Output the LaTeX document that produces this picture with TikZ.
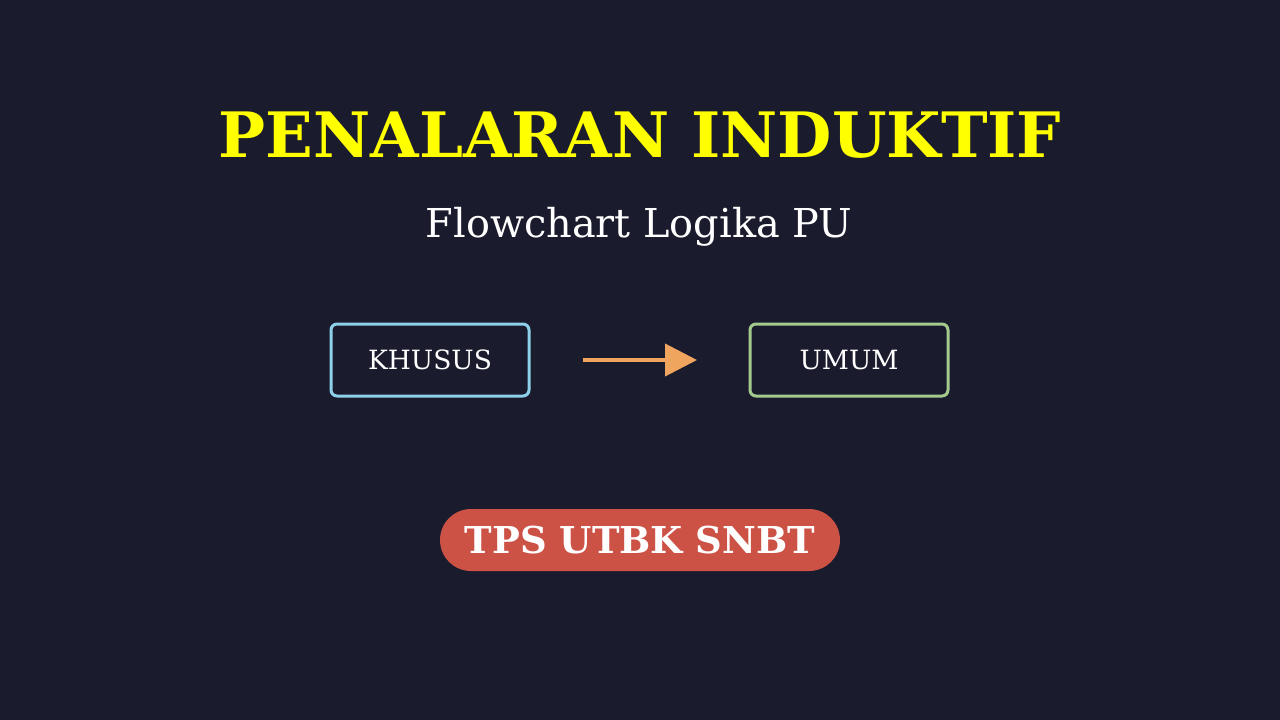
\documentclass[tikz,border=0pt]{standalone}
\usepackage{fontspec}
\setmainfont{DejaVu Serif}
\usetikzlibrary{arrows.meta}
\definecolor{bg}{HTML}{1B1B2E}
\definecolor{ttl}{HTML}{FFFF00}
\definecolor{bluebd}{HTML}{8ED1EA}
\definecolor{greenbd}{HTML}{A3CC8C}
\definecolor{arr}{HTML}{F0A55E}
\definecolor{badge}{HTML}{CD5246}
\tikzset{
  flowbox/.style={draw, line width=3pt, rounded corners=6pt, minimum width=198pt, minimum height=72pt, text=white, font=\fontsize{26.5}{26.5}\selectfont, inner sep=0pt},
  flowarrow/.style={draw=arr, line width=4pt, -{Triangle[length=32pt,width=32pt]}},
}
\begin{document}
\begin{tikzpicture}[x=1pt,y=-1pt]
\fill[bg] (0,0) rectangle (1280,720);
\useasboundingbox (0,0) rectangle (1280,720);
\node[anchor=base, text=ttl, font=\fontsize{62.6}{62.6}\selectfont\bfseries, inner sep=0pt] (title) at (640,157) {PENALARAN INDUKTIF};
\node[anchor=base, text=white, font=\fontsize{39.8}{39.8}\selectfont, inner sep=0pt] (sub) at (639,237) {Flowchart Logika PU};
\node[flowbox, draw=bluebd] (khusus) at (430,360) {KHUSUS};
\node[flowbox, draw=greenbd] (umum) at (849,360) {UMUM};
\draw[flowarrow, shorten <=52.5pt, shorten >=51.5pt] (khusus.east) -- (umum.west);
\node[fill=badge, rounded corners=31pt, minimum width=400pt, minimum height=62pt, inner sep=0pt, text=white, font=\fontsize{37}{37}\selectfont\bfseries] (tps) at (640,540) {TPS UTBK SNBT};
\end{tikzpicture}
\end{document}
